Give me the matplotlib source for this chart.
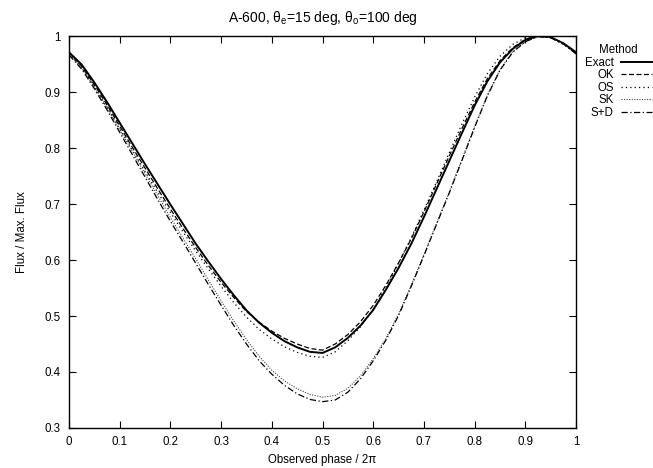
import numpy as np
import matplotlib.pyplot as plt

plt.rcParams['font.family'] = ['Liberation Sans', 'DejaVu Sans']
plt.rcParams['mathtext.fontset'] = 'custom'
plt.rcParams['mathtext.rm'] = 'Liberation Sans'
plt.rcParams['font.size'] = 8.3

phase = [0.0, 0.025, 0.05, 0.075, 0.1, 0.125, 0.15, 0.175, 0.2, 0.225,
         0.25, 0.275, 0.3, 0.325, 0.35, 0.375, 0.4, 0.425, 0.45, 0.475,
         0.5, 0.525, 0.55, 0.575, 0.6, 0.625, 0.65, 0.675, 0.7, 0.725,
         0.75, 0.775, 0.8, 0.825, 0.85, 0.875, 0.9, 0.925, 0.95, 0.975, 1.0]

exact = [0.971, 0.949, 0.917, 0.882, 0.845, 0.808, 0.771, 0.735, 0.699, 0.664,
         0.629, 0.597, 0.566, 0.537, 0.510, 0.488, 0.470, 0.455, 0.444, 0.436,
         0.434, 0.444, 0.461, 0.483, 0.511, 0.547, 0.586, 0.629, 0.677, 0.727,
         0.777, 0.827, 0.876, 0.919, 0.953, 0.977, 0.993, 1.000, 0.998, 0.987, 0.971]

ok = [0.970, 0.946, 0.913, 0.877, 0.839, 0.801, 0.764, 0.727, 0.691, 0.656,
      0.622, 0.590, 0.560, 0.533, 0.508, 0.489, 0.473, 0.460, 0.450, 0.442,
      0.439, 0.450, 0.467, 0.490, 0.519, 0.555, 0.595, 0.638, 0.686, 0.736,
      0.786, 0.835, 0.882, 0.924, 0.956, 0.979, 0.994, 1.000, 0.998, 0.987, 0.970]

os_ = [0.969, 0.944, 0.910, 0.873, 0.834, 0.796, 0.758, 0.721, 0.685, 0.650,
       0.616, 0.584, 0.553, 0.524, 0.498, 0.476, 0.459, 0.445, 0.435, 0.428,
       0.426, 0.436, 0.456, 0.481, 0.512, 0.551, 0.594, 0.640, 0.689, 0.740,
       0.792, 0.843, 0.891, 0.933, 0.964, 0.985, 0.997, 1.000, 0.997, 0.985, 0.969]

sk = [0.968, 0.943, 0.909, 0.872, 0.833, 0.794, 0.754, 0.715, 0.676, 0.639,
      0.602, 0.564, 0.527, 0.491, 0.458, 0.428, 0.403, 0.384, 0.370, 0.360,
      0.355, 0.358, 0.371, 0.393, 0.424, 0.460, 0.504, 0.555, 0.610, 0.666,
      0.722, 0.780, 0.839, 0.894, 0.940, 0.972, 0.990, 0.999, 0.997, 0.986, 0.968]

sd = [0.966, 0.941, 0.906, 0.868, 0.828, 0.788, 0.748, 0.708, 0.669, 0.632,
      0.594, 0.556, 0.519, 0.483, 0.450, 0.420, 0.396, 0.376, 0.361, 0.351,
      0.347, 0.350, 0.364, 0.388, 0.420, 0.457, 0.501, 0.553, 0.608, 0.664,
      0.720, 0.778, 0.837, 0.893, 0.939, 0.971, 0.990, 0.999, 0.997, 0.986, 0.968]

fig = plt.figure(figsize=(6.53, 4.68), dpi=100)
ax = fig.add_axes([0.1057, 0.0855, 0.7765, 0.8375])

ax.plot(phase, exact, color='black', lw=1.4, ls='-', label='Exact')
ax.plot(phase, ok, color='black', lw=0.9, ls=(0, (4, 2)), label='OK')
ax.plot(phase, os_, color='black', lw=0.9, ls=(0, (1, 2.5)), label='OS')
ax.plot(phase, sk, color='#444444', lw=0.8, ls=(0, (1, 1.3)), label='SK')
ax.plot(phase, sd, color='black', lw=0.9, ls=(0, (5, 2, 1, 2)), label='S+D')

ax.set_xlim(0, 1)
ax.set_ylim(0.3, 1)
ax.set_xticks(np.arange(0, 1.01, 0.1))
ax.set_yticks(np.arange(0.3, 1.01, 0.1))
ax.set_xticklabels(['0', '0.1', '0.2', '0.3', '0.4', '0.5', '0.6', '0.7', '0.8', '0.9', '1'])
ax.set_yticklabels(['0.3', '0.4', '0.5', '0.6', '0.7', '0.8', '0.9', '1'])
ax.tick_params(direction='in', top=True, right=True, length=5, width=0.8, pad=6)
for s in ax.spines.values():
    s.set_linewidth(1.0)

ax.set_xlabel('Observed phase / 2π', labelpad=4)
ax.set_ylabel('Flux / Max. Flux', labelpad=12)
ax.set_title('A-600, θ$_\\mathrm{e}$=15 deg, θ$_\\mathrm{o}$=100 deg', pad=10)

leg = ax.legend(title='Method', loc='upper right', bbox_to_anchor=(0.998, 0.906),
                bbox_transform=fig.transFigure, frameon=False, markerfirst=False,
                handlelength=2.7, handletextpad=0.6, labelspacing=0.05, borderpad=0,
                borderaxespad=0, fontsize=8.3, title_fontsize=8.3)

fig.savefig('out.png', dpi=100)
